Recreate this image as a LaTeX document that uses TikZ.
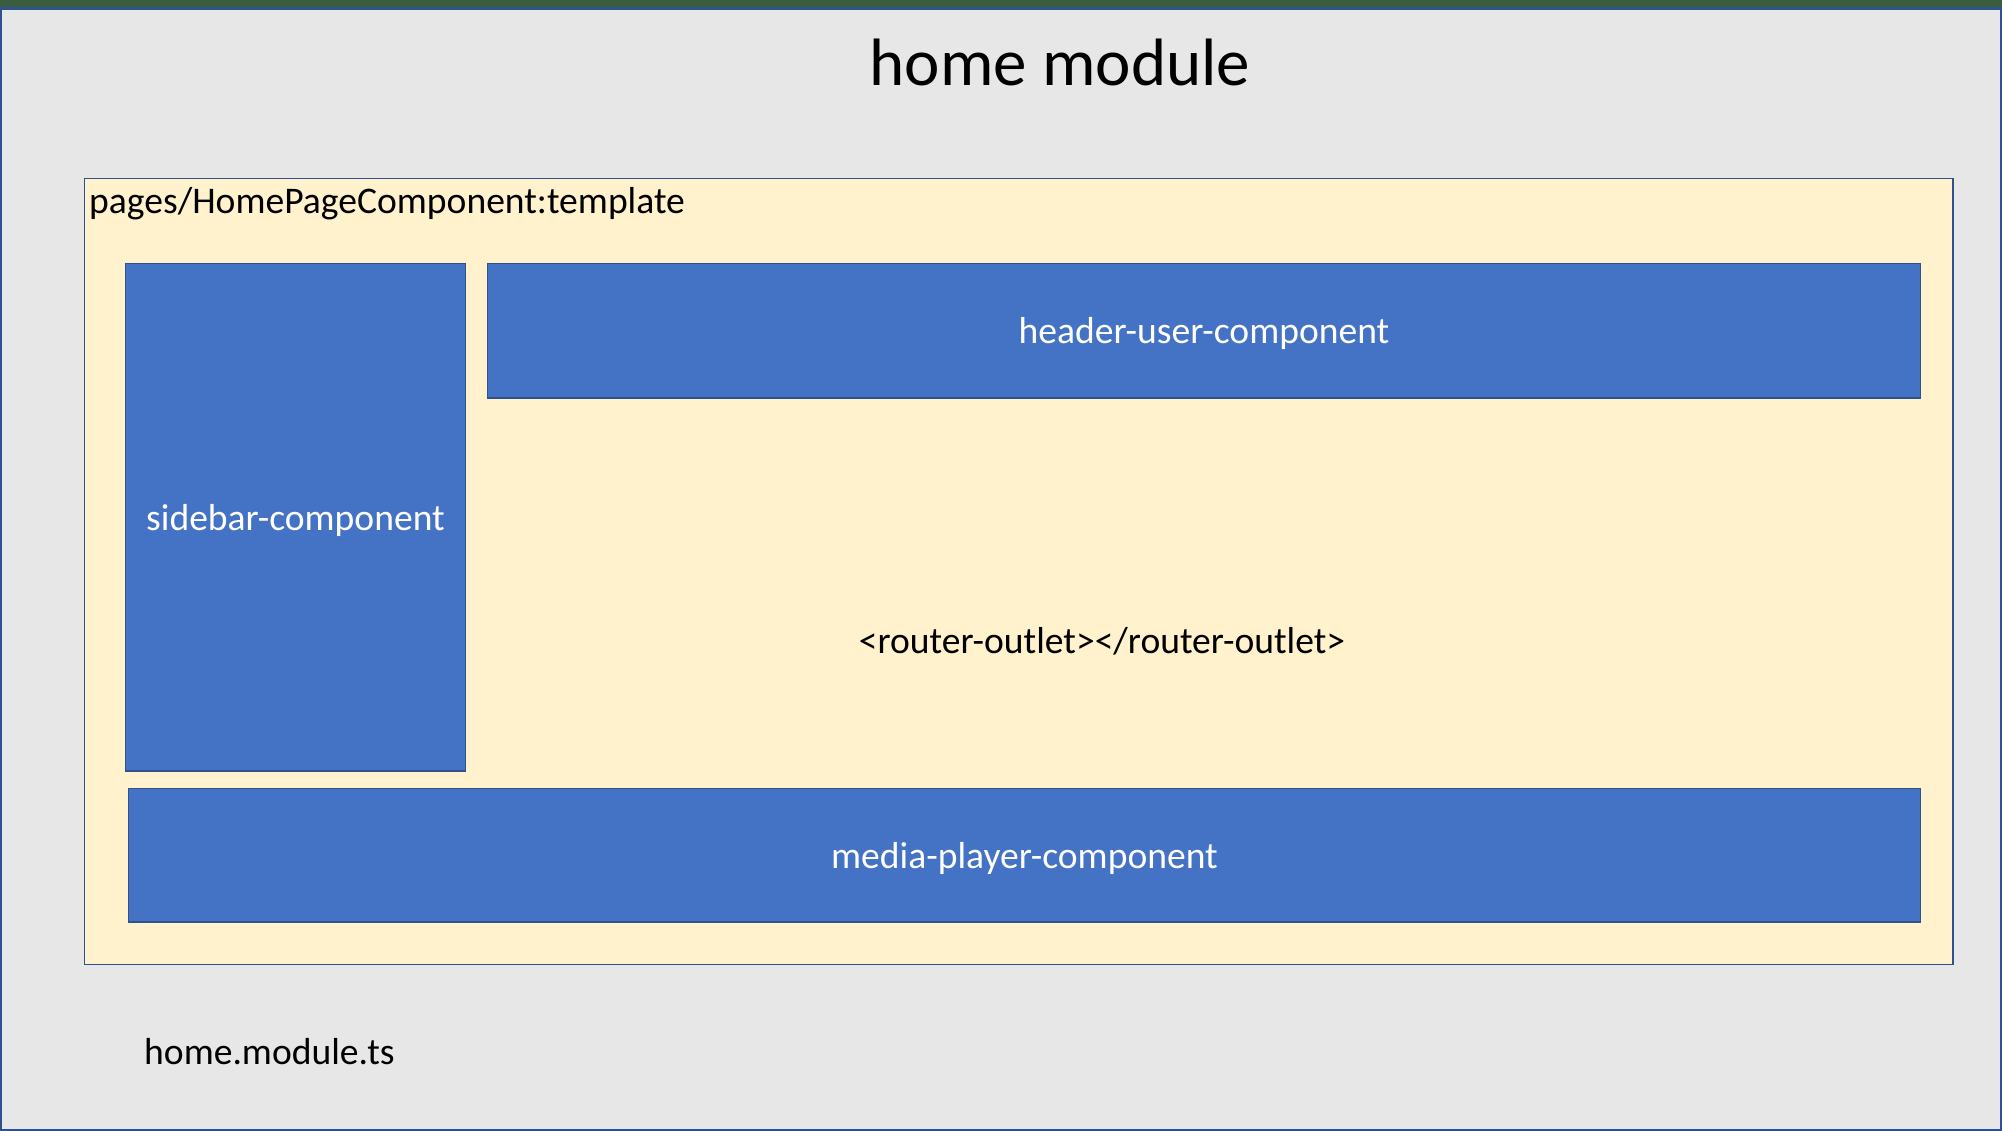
\documentclass[tikz,border=0pt]{standalone}
\usepackage{fontspec}
\setmainfont{Carlito}
\definecolor{bggray}{HTML}{E7E7E7}
\definecolor{frameblue}{HTML}{2F528F}
\definecolor{boxblue}{HTML}{4472C4}
\definecolor{tplyellow}{HTML}{FFF2CC}
\definecolor{topgreen}{HTML}{3A5E3C}
\begin{document}
\begin{tikzpicture}[x=1pt,y=-1pt,
  comp/.style={draw=frameblue,line width=1.5pt,fill=boxblue},
  complabel/.style={text=white,font=\fontsize{37.6}{42}\selectfont,yshift=-3pt},
  plain/.style={font=\fontsize{37.6}{42}\selectfont,text=black,inner sep=0pt}]
\useasboundingbox (0,0) rectangle (2002,1131);
% window strip and module frame
\fill[topgreen] (0,0) rectangle (2002,8);
\draw[frameblue,fill=bggray,line width=2.5pt] (1.2,8.5) rectangle (2000.8,1129.8);
\node[font=\fontsize{67}{72}\selectfont,inner sep=0pt] (title) at (1060,62) {home module};
% template area
\draw[frameblue,fill=tplyellow,line width=1.5pt] (84.5,178.5) rectangle (1953,964.5);
\node[plain,anchor=base west] (tpl) at (89,213.5) {pages/HomePageComponent:template};
% components
\draw[comp] (125.5,263.5) rectangle (465.5,771) node[midway,complabel] (sidebar) {sidebar-component};
\draw[comp] (487.5,263.5) rectangle (1920.5,398) node[midway,complabel] (header) {header-user-component};
\draw[comp] (128.5,788.5) rectangle (1920.5,922) node[midway,complabel] (player) {media-player-component};
\node[plain] (outlet) at (1102,641) {<router-outlet></router-outlet>};
\node[plain,anchor=west] (file) at (144,1052) {home.module.ts};
\end{tikzpicture}
\end{document}
